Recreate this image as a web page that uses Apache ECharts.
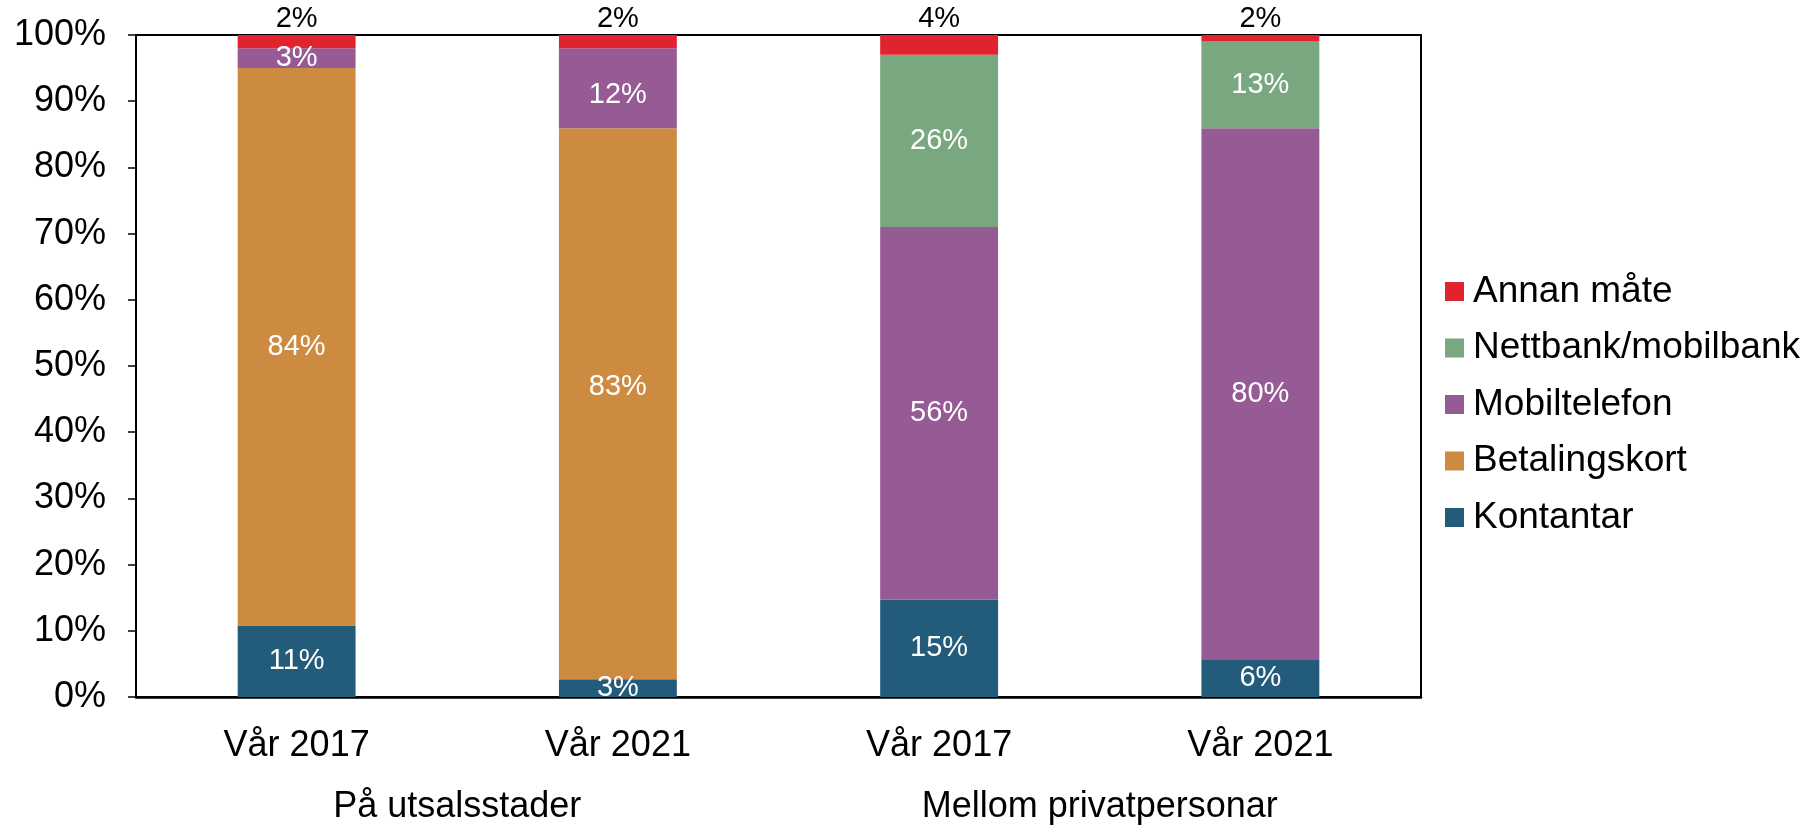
<!DOCTYPE html>
<html>
<head>
<meta charset="utf-8">
<script src="https://cdn.jsdelivr.net/npm/echarts@6/dist/echarts.min.js"></script>
<style>
  html, body { margin: 0; padding: 0; background: #fff; }
  #chart { width: 1819px; height: 826px; }
</style>
</head>
<body>
<div id="chart"></div>
<script>
// categories (bottom row) and groups (second row)
var categories = ['Vår 2017', 'Vår 2021', 'Vår 2017', 'Vår 2021'];
var groups = ['På utsalsstader', 'Mellom privatpersonar'];

// shares in percent
var kontantar = [10.8, 2.7, 14.7, 5.6];
var betalingskort = [84.2, 83.2, 0, 0];
var mobiltelefon = [3.0, 12.1, 56.3, 80.3];
var nettbank = [0, 0, 26.0, 13.1];
var annan = [2.0, 2.0, 3.0, 1.0];
// the printed labels on the red segments (they do not match the heights)
var annanLabels = [2, 2, 4, 2];

var yTicks = { min: 0, max: 100, interval: 10 };

var font = 'Liberation Sans, Arial, sans-serif';

// a couple of labels were nudged off-centre in the original
var labelNudge = {
  'Betalingskort': { 1: -17 },
  'Mobiltelefon': { 1: 7 }
};

function pct(p) {
  return p.value > 0 ? Math.round(p.value) + '%' : '';
}

function barSeries(name, data, color, labelFn, dark) {
  var nudge = labelNudge[name] || {};
  return {
    name: name,
    type: 'bar',
    stack: 'total',
    barWidth: '36.7%',
    data: data.map(function (v, i) {
      if (nudge[i] === undefined) return v;
      return { value: v, label: { offset: [0, nudge[i]] } };
    }),
    itemStyle: { color: color },
    label: {
      show: true,
      position: dark ? 'top' : 'inside',
      distance: 2,
      formatter: labelFn || pct,
      color: dark ? '#000' : '#fff',
      fontSize: 29,
      fontFamily: font
    }
  }
}

var chart = echarts.init(document.getElementById('chart'));
chart.setOption({
  animation: false,
  textStyle: { fontFamily: font },
  grid: {
    left: 136,
    right: 398,
    top: 35,
    bottom: 129,
    show: true,
    borderColor: '#000',
    borderWidth: 2
  },
  legend: {
    orient: 'vertical',
    left: 1440,
    top: 268,
    icon: 'rect',
    itemWidth: 19,
    itemHeight: 19,
    itemGap: 19.5,
    data: ['Annan måte', 'Nettbank/mobilbank', 'Mobiltelefon', 'Betalingskort', 'Kontantar'],
    textStyle: { fontSize: 37, color: '#000', fontFamily: font, padding: [0, 0, 0, 4] }
  },
  xAxis: [{
    type: 'category',
    data: categories,
    axisLine: { lineStyle: { color: '#000', width: 2.5 } },
    axisTick: { show: false },
    axisLabel: { color: '#000', fontSize: 36, margin: 31 }
  }, {
    type: 'category',
    position: 'bottom',
    data: groups,
    axisLine: { show: false },
    axisTick: { show: false },
    axisLabel: { color: '#000', fontSize: 36, margin: 92 }
  }],
  yAxis: {
    type: 'value',
    min: yTicks.min,
    max: yTicks.max,
    interval: yTicks.interval,
    splitLine: { show: false },
    axisLine: { show: true, lineStyle: { color: '#000', width: 2 } },
    axisTick: { show: true, length: 8, lineStyle: { color: '#000', width: 1.5 } },
    axisLabel: { color: '#000', fontSize: 36, margin: 30, formatter: '{value}%' }
  },
  series: [
    barSeries('Kontantar', kontantar, '#235B7A'),
    barSeries('Betalingskort', betalingskort, '#CD8B42'),
    barSeries('Mobiltelefon', mobiltelefon, '#965A94'),
    barSeries('Nettbank/mobilbank', nettbank, '#79A77F'),
    barSeries('Annan måte', annan, '#E0232F', function (p) {
      return annanLabels[p.dataIndex] + '%';
    }, true)
  ]
});
</script>
</body>
</html>
